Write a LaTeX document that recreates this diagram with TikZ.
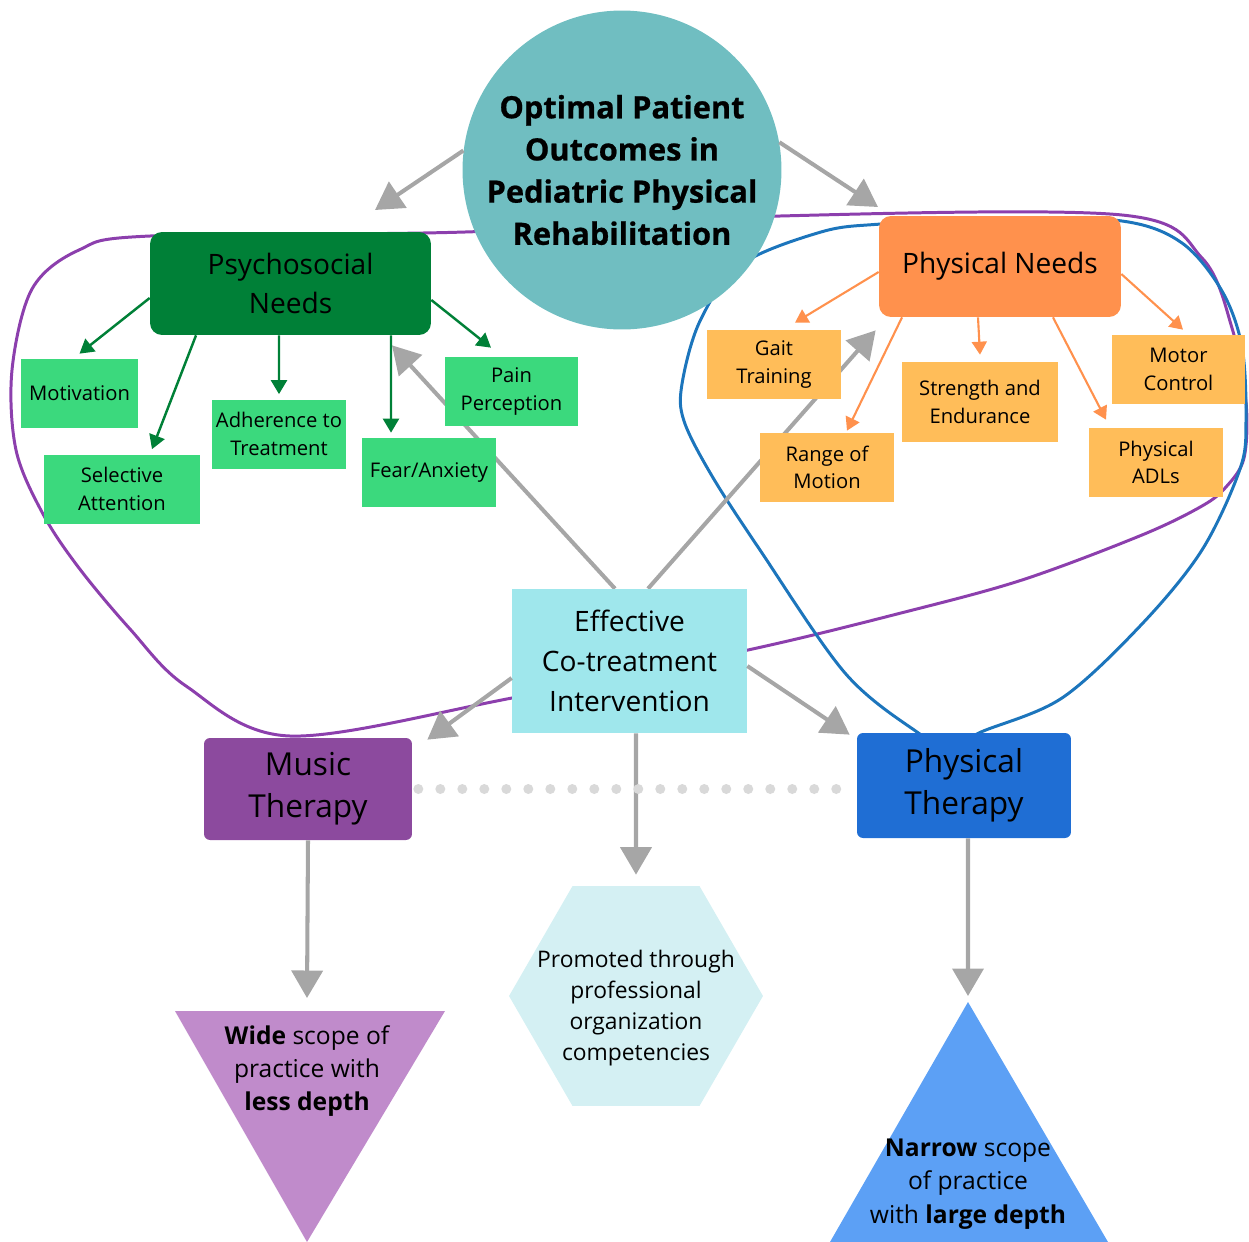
\documentclass[tikz,border=0pt]{standalone}
\usepackage{fontspec}
\setmainfont{Open Sans}
\newfontfamily\titlefont{Open Sans}[BoldFeatures={FakeBold=0.7}]
\usetikzlibrary{arrows.meta,shapes.geometric}

\definecolor{goalteal}{HTML}{70BEC1}
\definecolor{psygreen}{HTML}{008037}
\definecolor{itemgreen}{HTML}{3BD97D}
\definecolor{phyorange}{HTML}{FF914D}
\definecolor{itemorange}{HTML}{FFBD59}
\definecolor{effcyan}{HTML}{9FE7EC}
\definecolor{mtpurple}{HTML}{8C4A9E}
\definecolor{ptblue}{HTML}{1F6ED4}
\definecolor{hexcyan}{HTML}{D4F0F3}
\definecolor{widelilac}{HTML}{C08BCB}
\definecolor{narrowblue}{HTML}{5CA0F5}
\definecolor{arrowgray}{HTML}{A6A6A6}
\definecolor{loopviolet}{HTML}{8C3FAD}
\definecolor{loopblue}{HTML}{1C75BC}
\definecolor{dotgray}{HTML}{D9D9D9}

\pgfdeclarelayer{background}
\pgfsetlayers{background,main}

\begin{document}
\begin{tikzpicture}[x=0.02cm, y=-0.02cm,
    item/.style={minimum width=2.68cm, minimum height=1.38cm, inner sep=1pt,
        align=center, font=\fontsize{11.5}{15.6}\selectfont},
    needbox/.style={rounded corners=0.24cm, align=center,
        font=\fontsize{16}{22}\selectfont},
    therapy/.style={rounded corners=0.12cm, align=center,
        font=\fontsize{18}{24}\selectfont},
    grayarrow/.style={arrowgray, line width=2.3pt,
        -{Triangle[length=0.55cm,width=0.62cm]}},
    greenarrow/.style={psygreen, line width=1.4pt,
        -{Triangle[length=0.28cm,width=0.32cm]}},
    orangearrow/.style={phyorange, line width=1.2pt,
        -{Triangle[length=0.26cm,width=0.3cm]}}]

    \useasboundingbox (0,0) rectangle (1249,1242);

    % Goal circle
    \node[circle, fill=goalteal, minimum size=6.38cm, inner sep=0pt, align=center,
        font=\titlefont\bfseries\fontsize{17.5}{24}\selectfont] (goal) at (622,170)
        {Optimal Patient\\Outcomes in\\Pediatric Physical\\Rehabilitation};

    % Needs
    \node[needbox, fill=psygreen, minimum width=5.62cm, minimum height=2.06cm] (psy)
        at (290.5,283.5) {Psychosocial\\Needs};
    \node[needbox, fill=phyorange, minimum width=4.84cm, minimum height=2.02cm] (phy)
        at (1000,266.5) {Physical Needs};

    % Psychosocial items
    \node[item, fill=itemgreen, minimum width=2.34cm] (mot) at (79.5,393.5) {Motivation};
    \node[item, fill=itemgreen, minimum width=3.12cm] (sel) at (122,489) {Selective\\Attention};
    \node[item, fill=itemgreen] (adh) at (279,434) {Adherence to\\Treatment};
    \node[item, fill=itemgreen] (fear) at (429,472.5) {Fear/Anxiety};
    \node[item, fill=itemgreen] (pain) at (511.5,391.5) {Pain\\Perception};

    % Physical items
    \node[item, fill=itemorange] (gait) at (774,364.5) {Gait\\Training};
    \node[item, fill=itemorange] (rom) at (827,467.5) {Range of\\Motion};
    \node[item, fill=itemorange, minimum width=3.12cm, minimum height=1.6cm] (str)
        at (980,402) {Strength and\\Endurance};
    \node[item, fill=itemorange] (motor) at (1178.5,369.5) {Motor\\Control};
    \node[item, fill=itemorange] (adl) at (1156,462.5) {Physical\\ADLs};

    % Co-treatment and therapies
    \node[fill=effcyan, minimum width=4.7cm, minimum height=2.88cm, align=center,
        font=\fontsize{16}{22.7}\selectfont] (eff) at (629.5,661)
        {Effective\\Co-treatment\\Intervention};
    \node[therapy, fill=mtpurple, minimum width=4.16cm, minimum height=2.04cm] (mt)
        at (308,789) {Music\\Therapy};
    \node[therapy, fill=ptblue, minimum width=4.28cm, minimum height=2.1cm] (pt)
        at (964,785.5) {Physical\\Therapy};

    % Bottom shapes
    \node[regular polygon, regular polygon sides=6, fill=hexcyan, minimum size=5.08cm,
        inner sep=0pt] (promo) at (636,996) {};
    \node[align=center, font=\fontsize{13}{17.6}\selectfont] (promotext) at (636,1008)
        {Promoted through\\professional\\organization\\competencies};

    \fill[widelilac] (175,1011) -- (445,1011) -- (307,1242) -- cycle;
    \coordinate (widetop) at (307,1011);
    \node[align=center, font=\fontsize{14}{19}\selectfont] (widetext) at (307,1071)
        {\textbf{Wide} scope of\\practice with\\\textbf{less depth}};

    \fill[narrowblue] (968,1002) -- (1108,1242) -- (830,1242) -- cycle;
    \coordinate (narrowtop) at (968,1002);
    \node[align=center, font=\fontsize{14}{19}\selectfont] (narrowtext) at (968,1184)
        {\textbf{Narrow} scope\\of practice\\with \textbf{large depth}};

    % Free ends of the goal arrows
    \coordinate (psyin) at (375,210);
    \coordinate (phyin) at (878,207);

    % Scope loops and gray arrows, behind the boxes
    \begin{pgfonlayer}{background}
        \draw[loopviolet, line width=1.7pt] plot[smooth cycle, tension=0.55] coordinates {
            (290,736) (186,686) (130,629) (79,568) (43,514) (16,450) (12,370)
            (32,289) (79,250) (150,236) (465,232) (780,216) (1122,215) (1202,258)
            (1232,328) (1246,402) (1244,458) (1226,487) (1202,506) (1142,535)
            (1022,580) (901,613) (748,650) (512,698)};
        \draw[loopblue, line width=1.7pt] plot[smooth cycle, tension=0.55] coordinates {
            (950,748) (917,732) (845,673) (760,550) (712,476) (684,421) (682,384)
            (700,321) (740,265) (821,232) (881,224) (1000,218) (1122,221) (1182,243)
            (1222,291) (1242,347) (1246,421) (1240,469) (1202,550) (1142,624)
            (1062,698) (981,732)};

        \draw[grayarrow] ([xshift=-0.29cm]eff.north) -- ([xshift=2.03cm,yshift=-0.2cm]psy.south);
        \draw[grayarrow] ([xshift=0.37cm]eff.north) -- ([xshift=-0.06cm,yshift=-0.26cm]phy.south west);
    \end{pgfonlayer}

    \draw[grayarrow] (goal.173) -- (psyin);
    \draw[grayarrow] (goal.10) -- (phyin);
    \draw[grayarrow] ([yshift=-0.34cm]eff.west) -- ([xshift=0.3cm,yshift=-0.04cm]mt.north east);
    \draw[grayarrow] ([yshift=-0.1cm]eff.east) -- ([xshift=-0.14cm,yshift=-0.04cm]pt.north west);
    \draw[grayarrow] ([xshift=0.13cm]eff.south) -- ([yshift=0.22cm]promo.north);
    \draw[grayarrow] (mt.south) -- ([yshift=0.26cm]widetop);
    \draw[grayarrow] ([xshift=0.08cm]pt.south) -- ([yshift=0.12cm]narrowtop);

    % Dotted link between the therapies
    \draw[dotgray, line width=0.2cm, line cap=round, dash pattern=on 0pt off 0.44cm]
        ([xshift=0.12cm]mt.east) -- ([xshift=-0.12cm]pt.west |- mt.east);

    % Psychosocial arrows
    \draw[greenarrow] ([yshift=-0.29cm]psy.west) -- ([yshift=0.1cm]mot.north);
    \draw[greenarrow] ([xshift=-1.89cm]psy.south) -- ([xshift=0.6cm,yshift=0.1cm]sel.north);
    \draw[greenarrow] ([xshift=-0.23cm]psy.south) -- ([yshift=0.1cm]adh.north);
    \draw[greenarrow] ([xshift=2.01cm]psy.south) -- ([xshift=-0.76cm,yshift=0.1cm]fear.north);
    \draw[greenarrow] ([yshift=-0.33cm]psy.east) -- ([xshift=-0.41cm,yshift=0.18cm]pain.north);

    % Physical arrows
    \draw[orangearrow] ([yshift=-0.11cm]phy.west) -- ([xshift=0.42cm,yshift=0.14cm]gait.north);
    \draw[orangearrow] ([xshift=-1.96cm]phy.south) -- ([xshift=0.4cm,yshift=0.04cm]rom.north);
    \draw[orangearrow] ([xshift=-0.44cm]phy.south) -- ([yshift=0.14cm]str.north);
    \draw[orangearrow] ([xshift=1.06cm]phy.south) -- ([xshift=-1cm,yshift=0.16cm]adl.north);
    \draw[orangearrow] ([yshift=-0.15cm]phy.east) -- ([xshift=0.09cm,yshift=0.1cm]motor.north);

\end{tikzpicture}
\end{document}
